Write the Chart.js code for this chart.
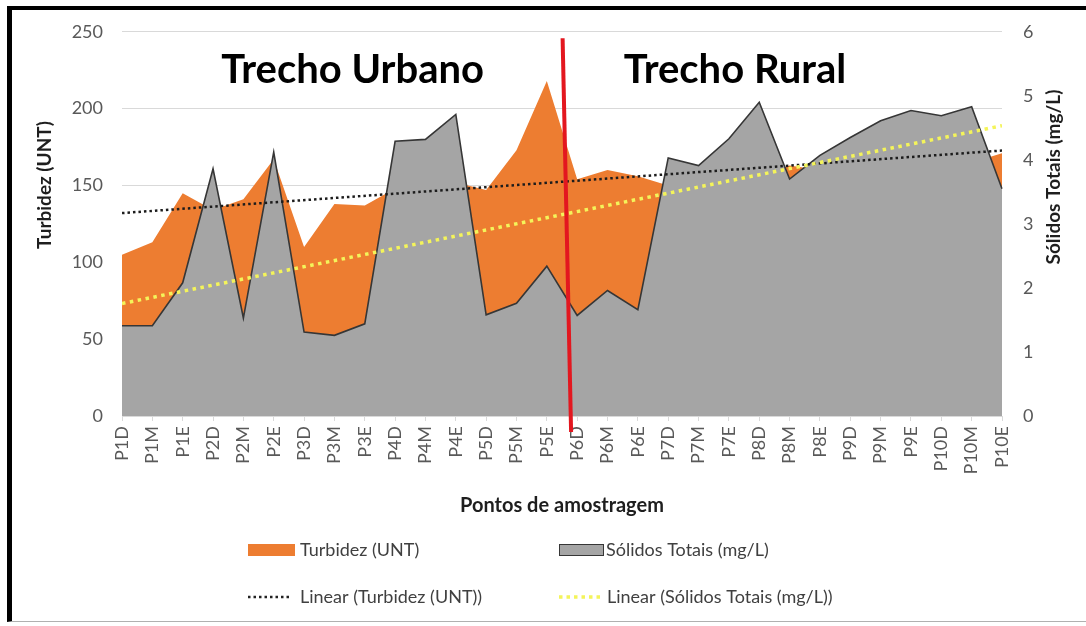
<!DOCTYPE html>
<html>
<head>
<meta charset="utf-8">
<script src="https://cdn.jsdelivr.net/npm/chart.js@4/dist/chart.umd.min.js"></script>
<style>
html,body{margin:0;padding:0;background:#fff;overflow:hidden;}
#wrap{position:relative;width:1086px;height:626px;}
canvas{position:absolute;left:0;top:0;}
#frame{position:absolute;left:7px;top:6px;width:1079px;height:616px;box-sizing:border-box;border-left:5px solid #000;border-top:4px solid #000;border-bottom:1px solid #b0b0b0;pointer-events:none;}
</style>
</head>
<body>
<div id="wrap"><canvas id="c" width="1086" height="626"></canvas><div id="frame"></div></div>
<script>
// ---- data ----
const categories = ['P1D','P1M','P1E','P2D','P2M','P2E','P3D','P3M','P3E','P4D','P4M','P4E','P5D','P5M','P5E',
                    'P6D','P6M','P6E','P7D','P7M','P7E','P8D','P8M','P8E','P9D','P9M','P9E','P10D','P10M','P10E'];
const turbidez = [105,113,145,134,141,167,110,138,137,148,150,152,147,173,218,
                  154,160,156,150,154,155,156,163,160,160,160,165,165,165,171];
const solidos  = [1.41,1.41,2.08,3.86,1.53,4.12,1.31,1.26,1.44,4.29,4.32,4.71,1.58,1.76,2.34,
                  1.57,1.96,1.66,4.03,3.91,4.33,4.90,3.70,4.07,4.35,4.61,4.77,4.69,4.83,3.55];
const turbTicks = [0,50,100,150,200,250];
const solTicks  = [0,1,2,3,4,5,6];
const divisorX  = [14.52, 14.80];   // red separator line (category index, top / bottom)
const divisorY  = [5.90, -0.25];    // in Sólidos axis units
const sectionLabels = ['Trecho Urbano','Trecho Rural'];
const sectionPos = [7.6, 20.2];

function linFit(vals){
  const n = vals.length; let sx=0, sy=0, sxx=0, sxy=0;
  vals.forEach((v,i)=>{ sx+=i; sy+=v; sxx+=i*i; sxy+=i*v; });
  const b = (n*sxy - sx*sy)/(n*sxx - sx*sx);
  const a = (sy - b*sx)/n;
  return [{x:0,y:a},{x:n-1,y:a+b*(n-1)}];
}

const FONT = 'Lato, "Open Sans", sans-serif';
Chart.defaults.font.family = FONT;

const ORANGE = '#ED7D31', GREY = '#A5A5A5', GREYLINE = '#363636', YELLOW = '#F4F45A', RED = '#E3171F';
const TICKC = '#595959';

const decor = {
  id: 'decor',
  afterDraw(chart){
    const ctx = chart.ctx, ca = chart.chartArea, xl = chart.scales.xl;
    ctx.save();
    // section labels
    ctx.fillStyle = '#000';
    ctx.font = 'bold 40px ' + FONT;
    ctx.textAlign = 'center'; ctx.textBaseline = 'alphabetic';
    sectionLabels.forEach((t,i)=> ctx.fillText(t, xl.getPixelForValue(sectionPos[i]), ca.top + 51));
    // axis titles
    ctx.fillStyle = '#1e1e1e';
    ctx.font = 'bold 19px ' + FONT;
    ctx.textBaseline = 'middle';
    ctx.save(); ctx.translate(45, 185); ctx.rotate(-Math.PI/2); ctx.fillText('Turbidez (UNT)', 0, 0); ctx.restore();
    ctx.save(); ctx.translate(1054, 177); ctx.rotate(-Math.PI/2); ctx.fillText('Sólidos Totais (mg/L)', 0, 0); ctx.restore();
    ctx.textBaseline = 'alphabetic';
    ctx.font = 'bold 20px ' + FONT;
    ctx.fillText('Pontos de amostragem', (ca.left + ca.right)/2, 512);
    // legend
    ctx.font = '18px ' + FONT;
    ctx.textAlign = 'left'; ctx.textBaseline = 'middle';
    const r1 = 550, r2 = 597;
    ctx.fillStyle = ORANGE; ctx.fillRect(248, r1-6, 47, 12);
    ctx.fillStyle = GREY; ctx.fillRect(559, r1-6, 45, 12);
    ctx.strokeStyle = GREYLINE; ctx.lineWidth = 1; ctx.strokeRect(559.5, r1-5.5, 44, 11);
    ctx.lineCap = 'butt';
    ctx.strokeStyle = '#222'; ctx.lineWidth = 2.5; ctx.setLineDash([2.5,3]);
    ctx.beginPath(); ctx.moveTo(248, r2); ctx.lineTo(290, r2); ctx.stroke();
    ctx.strokeStyle = YELLOW; ctx.lineWidth = 3.5; ctx.setLineDash([3.5,4]);
    ctx.beginPath(); ctx.moveTo(559, r2); ctx.lineTo(604, r2); ctx.stroke();
    ctx.setLineDash([]);
    ctx.fillStyle = '#404040';
    ctx.fillText('Turbidez (UNT)', 300, r1);
    ctx.fillText('Sólidos Totais (mg/L)', 606, r1);
    ctx.fillText('Linear (Turbidez (UNT))', 300, r2);
    ctx.fillText('Linear (Sólidos Totais (mg/L))', 607, r2);
    ctx.restore();
  }
};

function build(){
  new Chart(document.getElementById('c'), {
    type: 'line',
    data: {
      labels: categories,
      datasets: [
        { label: 'Turbidez (UNT)', data: turbidez, yAxisID: 'y', xAxisID: 'x',
          fill: 'origin', backgroundColor: ORANGE, borderColor: ORANGE, borderWidth: 0,
          pointRadius: 0, tension: 0, order: 5 },
        { label: 'Sólidos Totais (mg/L)', data: solidos, yAxisID: 'y2', xAxisID: 'x',
          fill: 'origin', backgroundColor: GREY, borderColor: GREYLINE, borderWidth: 1.6,
          pointRadius: 0, tension: 0, order: 4 },
        { label: 'Linear (Turbidez (UNT))', data: linFit(turbidez), yAxisID: 'y', xAxisID: 'xl',
          borderColor: '#1c1c1c', borderWidth: 2.5, borderDash: [2.5,3], fill: false,
          pointRadius: 0, order: 3 },
        { label: 'Linear (Sólidos Totais (mg/L))', data: linFit(solidos), yAxisID: 'y2', xAxisID: 'xl',
          borderColor: YELLOW, borderWidth: 3.5, borderDash: [3.5,4.5], fill: false,
          pointRadius: 0, order: 2 },
        { label: 'divisor', data: [{x:divisorX[0], y:divisorY[0]},{x:divisorX[1], y:divisorY[1]}],
          yAxisID: 'y2', xAxisID: 'xl', borderColor: RED, borderWidth: 4, fill: false,
          pointRadius: 0, clip: false, order: 1 }
      ]
    },
    options: {
      responsive: false, animation: false, devicePixelRatio: 1,
      layout: { padding: { top: 31, left: 0, right: 0, bottom: 0 } },
      plugins: { legend: { display: false }, tooltip: { enabled: false }, title: { display: false } },
      scales: {
        x: {
          type: 'category', position: 'bottom', offset: false,
          grid: { display: true, drawOnChartArea: false, drawTicks: true, tickLength: 5, color: '#D9D9D9' },
          border: { display: true, color: '#D9D9D9' },
          ticks: { autoSkip: false, minRotation: 90, maxRotation: 90, padding: 5,
                   color: TICKC, font: { size: 18 } },
          afterFit: s => { s.height = 210; }
        },
        xl: { type: 'linear', display: false, min: 0, max: categories.length - 1 },
        y: {
          position: 'left', min: 0, max: 250,
          afterBuildTicks: s => { s.ticks = turbTicks.map(v => ({ value: v })); },
          grid: { color: '#D9D9D9', drawTicks: false, lineWidth: 1 },
          border: { display: false },
          ticks: { padding: 19, color: TICKC, font: { size: 18 } },
          afterFit: s => { s.width = 122; }
        },
        y2: {
          position: 'right', min: 0, max: 6,
          afterBuildTicks: s => { s.ticks = solTicks.map(v => ({ value: v })); },
          grid: { drawOnChartArea: false, drawTicks: false },
          border: { display: false },
          ticks: { padding: 21, color: TICKC, font: { size: 18 } },
          afterFit: s => { s.width = 84; }
        }
      }
    },
    plugins: [decor]
  });
}
if (document.fonts && document.fonts.load) {
  Promise.all([document.fonts.load('18px Lato'), document.fonts.load('bold 18px Lato')]).then(build, build);
} else { build(); }
</script>
</body>
</html>
